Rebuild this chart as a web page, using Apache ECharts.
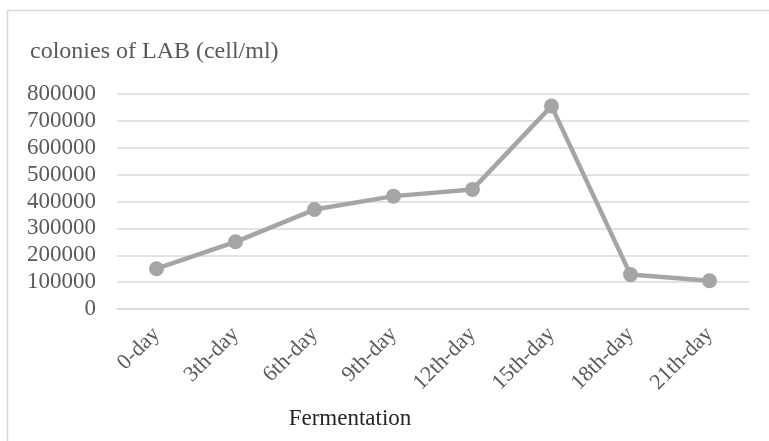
<!DOCTYPE html>
<html>
<head>
<meta charset="utf-8">
<script src="https://cdn.jsdelivr.net/npm/echarts@6/dist/echarts.min.js"></script>
<style>
  html, body { margin: 0; padding: 0; background: #ffffff; }
  #chart { width: 769px; height: 441px; }
</style>
</head>
<body>
<div id="chart"></div>
<script>
// Lactic acid bacteria colony counts across the fermentation period
const categories = ['0-day', '3th-day', '6th-day', '9th-day', '12th-day', '15th-day', '18th-day', '21th-day'];
const colonies = [150000, 250000, 370000, 420000, 445000, 755000, 128000, 105000];
const yMin = 0;
const yMax = 800000;
const yStep = 100000;

const serif = '"Liberation Serif", "DejaVu Serif", serif';
const chart = echarts.init(document.getElementById('chart'), null, { renderer: 'canvas' });

chart.setOption({
  backgroundColor: '#ffffff',
  animation: false,
  graphic: [
    {
      type: 'rect',
      shape: { x: 7.5, y: 10.5, width: 800, height: 480 },
      style: { fill: 'none', stroke: '#d9d9d9', lineWidth: 1.5 },
      silent: true
    },
    {
      // x-axis title, placed under the chart area
      type: 'text',
      x: 350,
      y: 419,
      style: {
        text: 'Fermentation',
        font: '23px ' + serif,
        fill: '#262626',
        textAlign: 'center',
        textVerticalAlign: 'middle'
      },
      silent: true
    }
  ],
  title: {
    text: 'colonies of LAB (cell/ml)',
    left: 25,
    top: 35,
    textStyle: { fontFamily: serif, fontSize: 24, fontWeight: 'normal', color: '#595959' }
  },
  grid: { left: 117, right: 20, top: 94, bottom: 132, containLabel: false },
  xAxis: {
    type: 'category',
    data: categories,
    boundaryGap: true,
    axisLine: { show: true, lineStyle: { color: '#d9d9d9', width: 1.5 } },
    axisTick: { show: false },
    axisLabel: {
      rotate: 45,
      interval: 0,
      margin: 22,
      fontFamily: serif,
      fontSize: 22,
      color: '#595959'
    }
  },
  yAxis: {
    type: 'value',
    min: yMin,
    max: yMax,
    interval: yStep,
    axisLine: { show: false },
    axisTick: { show: false },
    axisLabel: {
      margin: 21,
      fontFamily: serif,
      fontSize: 23,
      color: '#595959',
      formatter: (v) => String(v)
    },
    splitLine: { lineStyle: { color: '#d9d9d9', width: 1.5 } }
  },
  series: [{
    type: 'line',
    data: colonies,
    symbol: 'circle',
    symbolSize: 15,
    lineStyle: { color: '#a5a5a8', width: 4.5 },
    itemStyle: { color: '#a5a5a8' }
  }]
});
</script>
</body>
</html>
